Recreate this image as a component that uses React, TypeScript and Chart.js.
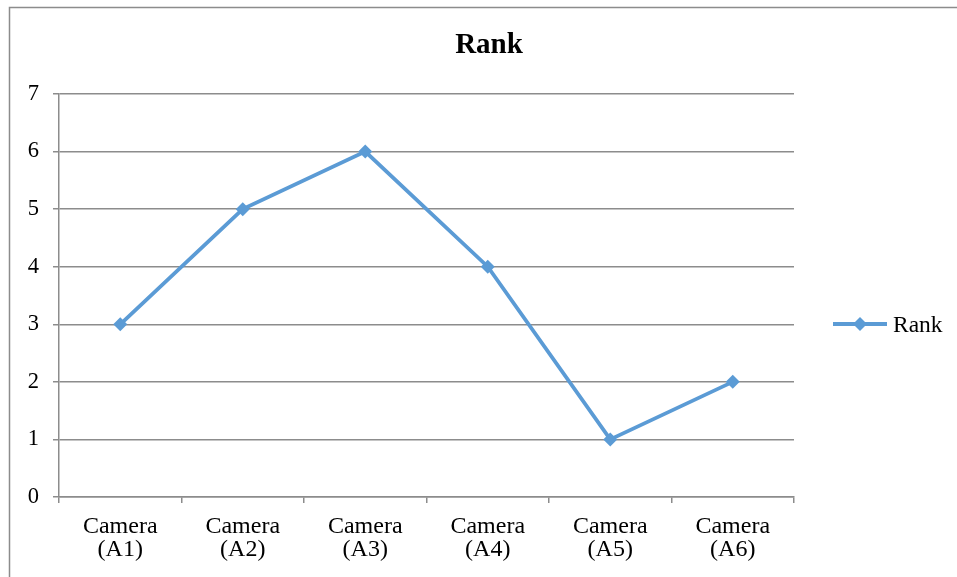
import React, { useEffect, useRef } from "react";
import { Chart, registerables } from "chart.js";

Chart.register(...registerables);

const categories: string[][] = [
  ["Camera", "(A1)"],
  ["Camera", "(A2)"],
  ["Camera", "(A3)"],
  ["Camera", "(A4)"],
  ["Camera", "(A5)"],
  ["Camera", "(A6)"],
];
const rankValues: number[] = [3, 5, 6, 4, 1, 2];
const seriesName = "Rank";
const chartTitle = "Rank";
const yMin = 0;
const yMax = 7;

const LINE_COLOR = "#5B9BD5";
const GRID_COLOR = "#8C8C8C";
const SERIF = "'Liberation Serif', 'Times New Roman', serif";

const decorPlugin = {
  id: "decor",
  afterDraw(chart: any) {
    const ctx = chart.ctx;
    ctx.save();
    // frame
    ctx.strokeStyle = "#8C8C8C";
    ctx.lineWidth = 1.5;
    ctx.strokeRect(9.5, 7.5, 1200, 1200);
    // title
    ctx.fillStyle = "#000";
    ctx.font = `bold 29px ${SERIF}`;
    ctx.textAlign = "center";
    ctx.textBaseline = "alphabetic";
    ctx.fillText(chartTitle, 489, 53);
    // legend
    const ly = 324;
    ctx.strokeStyle = LINE_COLOR;
    ctx.lineWidth = 4;
    ctx.beginPath();
    ctx.moveTo(833, ly);
    ctx.lineTo(887, ly);
    ctx.stroke();
    ctx.fillStyle = LINE_COLOR;
    ctx.beginPath();
    ctx.moveTo(860, ly - 7);
    ctx.lineTo(867, ly);
    ctx.lineTo(860, ly + 7);
    ctx.lineTo(853, ly);
    ctx.closePath();
    ctx.fill();
    ctx.fillStyle = "#000";
    ctx.font = `23.5px ${SERIF}`;
    ctx.textAlign = "left";
    ctx.textBaseline = "alphabetic";
    ctx.fillText(chart.data.datasets[0].label, 893, 332);
    ctx.restore();
  },
};

export default function App() {
  const ref = useRef<HTMLCanvasElement | null>(null);
  useEffect(() => {
    if (!ref.current) return;
    const chart = new Chart(ref.current, {
      type: "line",
      data: {
        labels: categories,
        datasets: [
          {
            label: seriesName,
            data: rankValues,
            borderColor: LINE_COLOR,
            backgroundColor: LINE_COLOR,
            borderWidth: 3.8,
            pointStyle: "rectRot",
            pointRadius: 7,
            pointBorderWidth: 0,
            pointBackgroundColor: LINE_COLOR,
            tension: 0,
          },
        ],
      },
      plugins: [decorPlugin],
      options: {
        animation: false,
        responsive: false,
        maintainAspectRatio: false,
        devicePixelRatio: 1,
        layout: { padding: { top: 94, right: 163, left: 0, bottom: 0 } },
        plugins: {
          legend: { display: false },
          title: { display: false },
          tooltip: { enabled: false },
        },
        scales: {
          x: {
            type: "category",
            offset: true,
            grid: {
              offset: true,
              drawOnChartArea: false,
              drawTicks: true,
              tickLength: 6,
              color: GRID_COLOR,
              lineWidth: 1.5,
            },
            border: { display: true, color: GRID_COLOR, width: 1.5 },
            ticks: {
              color: "#000",
              font: { family: SERIF, size: 24, lineHeight: 0.97 },
              padding: 12,
              maxRotation: 0,
              autoSkip: false,
            },
            afterFit(scale: any) {
              scale.height = 80;
            },
          },
          y: {
            min: yMin,
            max: yMax,
            grid: {
              color: GRID_COLOR,
              lineWidth: 1.5,
              tickLength: 6,
              drawTicks: true,
            },
            border: { display: true, color: GRID_COLOR, width: 1.5 },
            ticks: {
              stepSize: 1,
              color: "#000",
              font: { family: SERIF, size: 22.5 },
              padding: 14,
            },
            afterFit(scale: any) {
              scale.width = 59;
            },
          },
        },
      },
    });
    return () => chart.destroy();
  }, []);
  return (
    <div style={{ position: "absolute", left: 0, top: 0, width: 957, height: 577, background: "#fff" }}>
      <canvas ref={ref} width={957} height={577} style={{ display: "block" }} />
    </div>
  );
}
